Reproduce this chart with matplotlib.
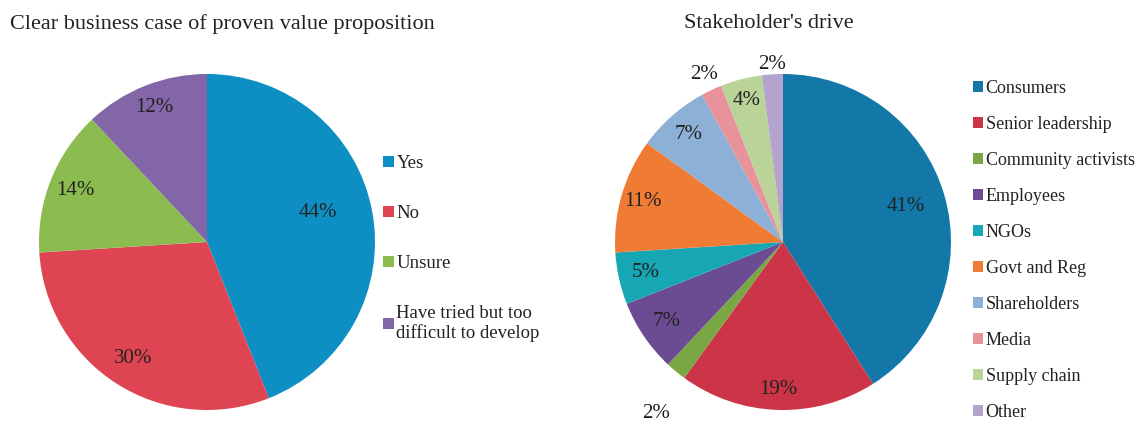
import numpy as np
import matplotlib
matplotlib.use("Agg")
import matplotlib.pyplot as plt
from matplotlib.patches import Patch

plt.rcParams["font.family"] = ["Liberation Serif", "DejaVu Serif"]

# left pie
left_title = "Clear business case of proven value proposition"
left_labels = ["Yes", "No", "Unsure", "Have tried but too\ndifficult to develop"]
left_values = [44, 30, 14, 12]
left_colors = ["#0e8fc4", "#de4452", "#8cbb50", "#8366a8"]
left_label_dist = [0.68, 0.82, 0.84, 0.86]
left_label_turn = [4, 0, 0, 0]

# right pie
right_title = "Stakeholder's drive"
right_labels = ["Consumers", "Senior leadership", "Community activists", "Employees",
                "NGOs", "Govt and Reg", "Shareholders", "Media", "Supply chain", "Other"]
right_values = [41, 19, 2, 7, 5, 11, 7, 2, 4, 2]
right_colors = ["#1378a8", "#cc3547", "#78a743", "#6b4b91", "#17a6b3",
                "#f07b35", "#8db1d6", "#e8939b", "#b9d399", "#b3a3cd"]
right_label_dist = [0.76, 0.88, 1.27, 0.84, 0.84, 0.87, 0.85, 1.1, 0.87, 1.06]
right_label_turn = [0, 0, 3, 0, 0, 0, 0, 0, 0, 0]

W, H = 1140, 422
fig = plt.figure(figsize=(W / 100, H / 100), dpi=100)


def px_axes(cx, cy, r):
    return fig.add_axes([(cx - r) / W, (H - cy - r) / H, 2 * r / W, 2 * r / H])


def draw_pie(ax, values, colors, dists, turns):
    wedges, _, autos = ax.pie(values, colors=colors, startangle=90, counterclock=False,
                              autopct="%d%%", textprops={"fontsize": 15, "color": "#222222"})
    for t, d, a, w in zip(autos, dists, turns, wedges):
        ang = np.deg2rad((w.theta1 + w.theta2) / 2 + a)
        t.set_position((d * np.cos(ang), d * np.sin(ang)))
    ax.set_xlim(-1, 1)
    ax.set_ylim(-1, 1)
    ax.set_aspect("equal")


ax1 = px_axes(207, 242, 168)
draw_pie(ax1, left_values, left_colors, left_label_dist, left_label_turn)
fig.text(10 / W, 1 - 24 / H, left_title, fontsize=16, va="center", ha="left", color="#222222")

ax2 = px_axes(783, 242, 168)
draw_pie(ax2, right_values, right_colors, right_label_dist, right_label_turn)
fig.text(684 / W, 1 - 24 / H, right_title, fontsize=16, va="center", ha="left", color="#222222")

h1 = [Patch(facecolor=c, edgecolor="none") for c in left_colors]
fig.legend(h1, left_labels, loc="upper left", bbox_to_anchor=(374 / W, 1 - 146 / H),
           frameon=False, fontsize=13.5, handlelength=0.55, handleheight=0.55,
           handletextpad=0.15, labelspacing=1.75, borderpad=0, labelcolor="#222222")

h2 = [Patch(facecolor=c, edgecolor="none") for c in right_colors]
fig.legend(h2, right_labels, loc="upper left", bbox_to_anchor=(964 / W, 1 - 71 / H),
           frameon=False, fontsize=13, handlelength=0.55, handleheight=0.55,
           handletextpad=0.15, labelspacing=1.05, borderpad=0, labelcolor="#222222")

fig.savefig("out.png", dpi=100)
